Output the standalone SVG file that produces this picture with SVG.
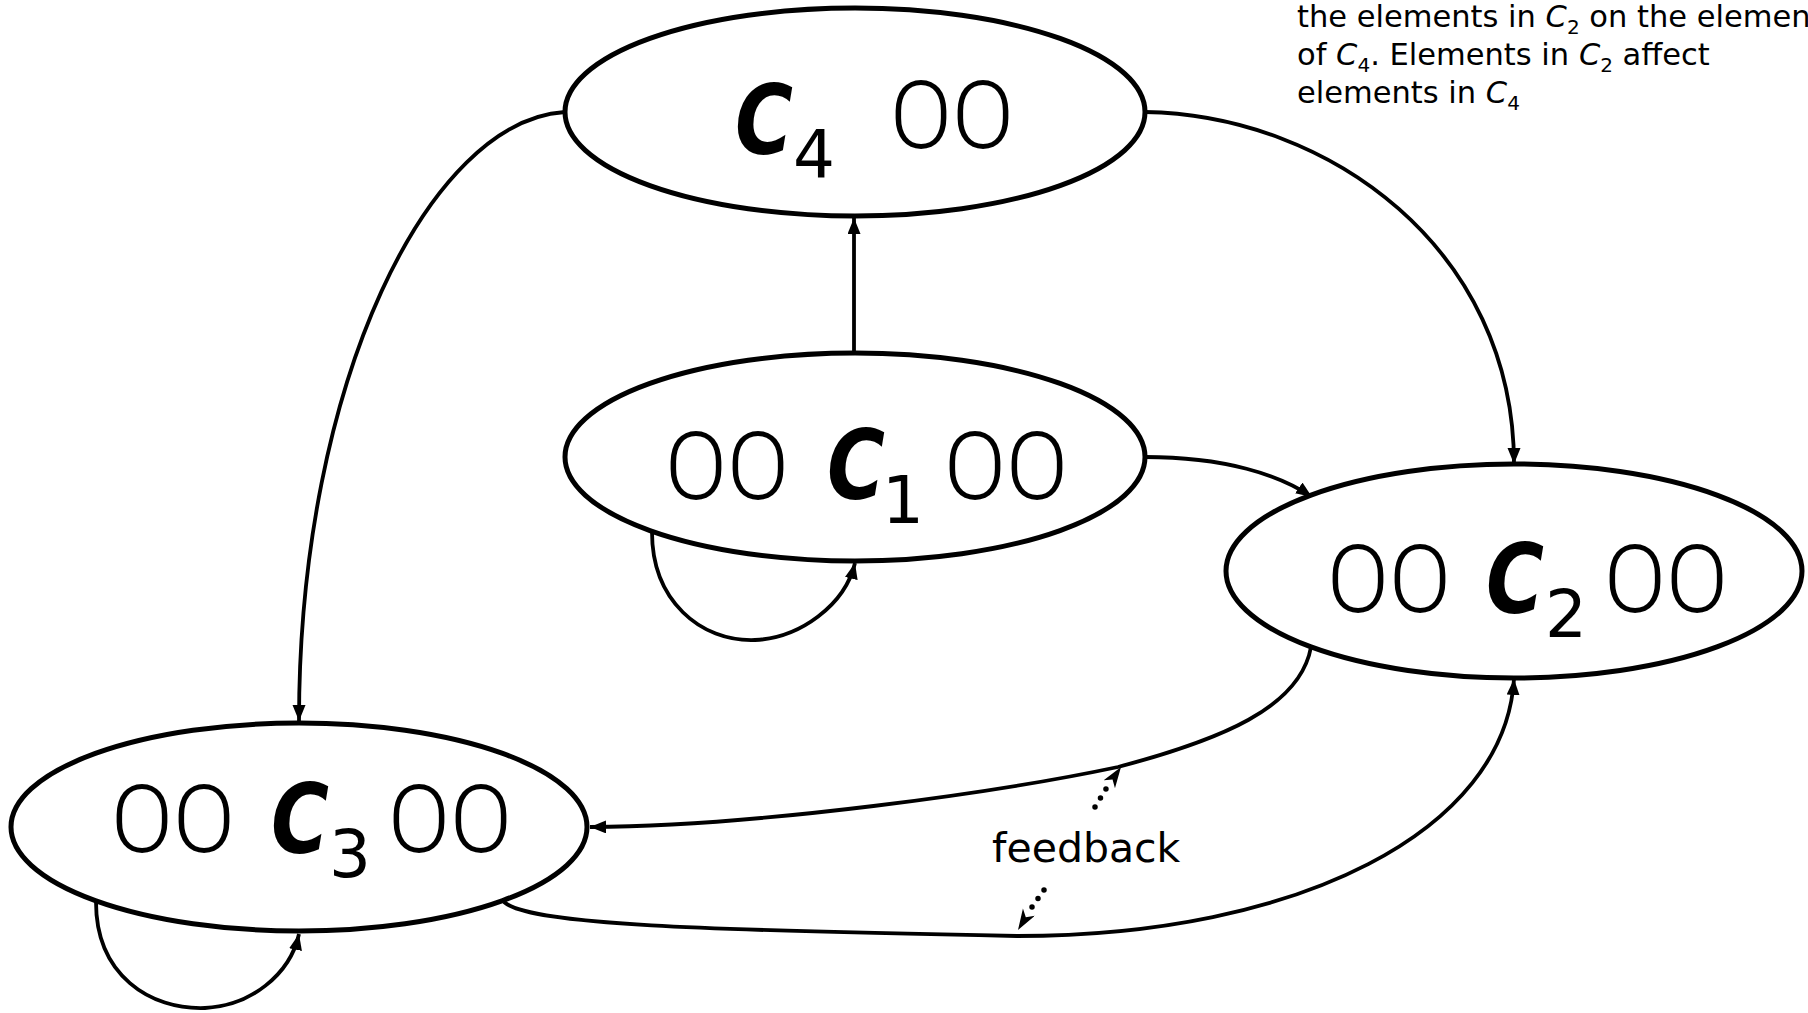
<svg xmlns="http://www.w3.org/2000/svg" width="1808" height="1013" viewBox="0 0 1808 1013">
<style>
.node{fill:#fff;stroke:#000;stroke-width:5}
.edge{fill:none;stroke:#000;stroke-width:3.8;marker-end:url(#ah)}
.dots{fill:none;stroke:#000;stroke-width:5.5;stroke-linecap:round}
.dhead{fill:none;stroke:none;marker-end:url(#dh)}
.cc{font-family:"DejaVu Sans",sans-serif;font-weight:bold;font-style:italic;font-size:97px;fill:#000}
.sub{font-family:"DejaVu Sans",sans-serif;font-size:66px;fill:#000}
.oo{font-family:Roboto,"DejaVu Sans",sans-serif;font-weight:300;font-size:94px;fill:#000}
.note{font-family:"DejaVu Sans",sans-serif;font-size:30.5px;fill:#000}
.ns{font-size:20px}
.lbl{font-family:"DejaVu Sans",sans-serif;font-size:41px;fill:#000}
</style>
<defs>
<marker id="ah" markerUnits="userSpaceOnUse" markerWidth="17" markerHeight="14" refX="16" refY="6.5" orient="auto">
<path d="M0,0 L16,6.5 L0,13 z" fill="#000"/>
</marker>
<marker id="dh" markerUnits="userSpaceOnUse" markerWidth="22" markerHeight="16" refX="21" refY="7" orient="auto">
<path d="M0,0 L21,7 L0,14 L6,7 z" fill="#000"/>
</marker>
</defs>
<g id="connectors">
<path class="edge" d="M854,352 L854,218"/>
<path class="edge" d="M1145,457 C1225,457 1280,475 1312,497"/>
<path class="edge" d="M1145,112 C1330,115 1514,250 1514,464"/>
<path class="edge" d="M565,112 C430,120 299,380 299,721"/>
<path class="edge" d="M652,532 C652,600 700,642 755,640 C800,638 845,605 855,563"/>
<path class="edge" d="M1311,647 C1300,708 1220,740 1118,767 C1000,792 760,826 590,827"/>
<path class="edge" d="M504,902 C530,925 700,930 1017,936 C1300,936 1505,830 1514,679"/>
<path class="edge" d="M96,902 C96,975 150,1010 205,1008 C250,1006 290,975 299,934"/>
<path class="dots" d="M1095,807 L1106,789" stroke-dasharray="0 10.5"/>
<path class="dhead" d="M1106,789 L1121,767"/>
<path class="dots" d="M1044,890 L1032,907" stroke-dasharray="0 10.4"/>
<path class="dhead" d="M1032,907 L1018,930"/>
</g>
<g id="c4">
<ellipse class="node" cx="855" cy="112" rx="290" ry="104"/>
<text class="cc" x="735" y="154" textLength="58" lengthAdjust="spacingAndGlyphs">C</text>
<text class="sub" x="793" y="177">4</text>
<text class="oo" x="890" y="148" textLength="124" lengthAdjust="spacingAndGlyphs">OO</text>
</g>
<g id="c1">
<ellipse class="node" cx="855" cy="457" rx="290" ry="104"/>
<text class="oo" x="665" y="499" textLength="124" lengthAdjust="spacingAndGlyphs">OO</text>
<text class="cc" x="827" y="499" textLength="58" lengthAdjust="spacingAndGlyphs">C</text>
<text class="sub" x="882" y="523">1</text>
<text class="oo" x="944" y="499" textLength="124" lengthAdjust="spacingAndGlyphs">OO</text>
</g>
<g id="c2">
<ellipse class="node" cx="1514" cy="571" rx="288" ry="107"/>
<text class="oo" x="1327" y="612" textLength="124" lengthAdjust="spacingAndGlyphs">OO</text>
<text class="cc" x="1486" y="613" textLength="58" lengthAdjust="spacingAndGlyphs">C</text>
<text class="sub" x="1545" y="637">2</text>
<text class="oo" x="1604" y="612" textLength="124" lengthAdjust="spacingAndGlyphs">OO</text>
</g>
<g id="c3">
<ellipse class="node" cx="299" cy="827" rx="288" ry="104"/>
<text class="oo" x="111" y="852" textLength="124" lengthAdjust="spacingAndGlyphs">OO</text>
<text class="cc" x="271" y="853" textLength="58" lengthAdjust="spacingAndGlyphs">C</text>
<text class="sub" x="329" y="877">3</text>
<text class="oo" x="388" y="852" textLength="124" lengthAdjust="spacingAndGlyphs">OO</text>
</g>
<g id="feedback-label">
<text class="lbl" x="992" y="862">feedback</text>
</g>
<g id="note">
<text class="note" x="1297" y="27">the elements in <tspan font-style="italic">C</tspan><tspan class="ns" dy="7">2</tspan><tspan dy="-7"> on the elements</tspan></text>
<text class="note" x="1297" y="65">of <tspan font-style="italic">C</tspan><tspan class="ns" dy="7">4</tspan><tspan dy="-7">. Elements in </tspan><tspan font-style="italic">C</tspan><tspan class="ns" dy="7">2</tspan><tspan dy="-7"> affect</tspan></text>
<text class="note" x="1297" y="103">elements in <tspan font-style="italic">C</tspan><tspan class="ns" dy="7">4</tspan></text>
</g>
</svg>
